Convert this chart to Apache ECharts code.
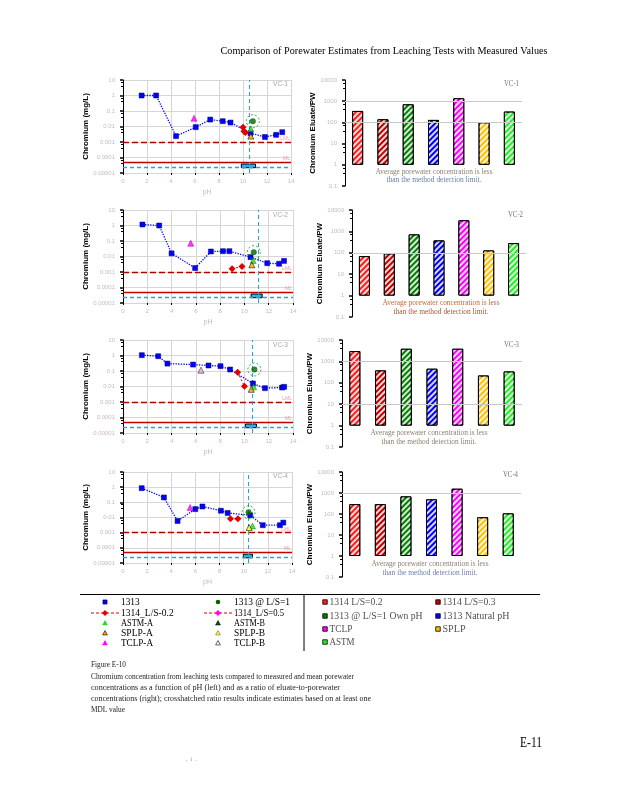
<!DOCTYPE html>
<html><head><meta charset="utf-8">
<script src="https://cdn.jsdelivr.net/npm/echarts@6/dist/echarts.min.js"></script>
<style>html,body{margin:0;padding:0;background:#fff}#c{width:618px;height:800px}</style>
</head><body><div id="c"></div>
<script>
// ---------------- DATA ----------------
const pageTitle = 'Comparison of Porewater Estimates from Leaching Tests with Measured Values';
const vcNames = ['VC-1', 'VC-2', 'VC-3', 'VC-4'];
const barCategories = ['1314 L/S=0.2', '1314 L/S=0.3', '1313 @ L/S=1 Own pH', '1313 Natural pH', 'TCLP', 'SPLP', 'ASTM'];

// eluate / porewater ratios (right panels)
const vc1Ratio = [347, 141, 714, 131, 1380, 101, 324];
const vc2Ratio = [70, 93, 724, 380, 3300, 129, 283];
const vc3Ratio = [3040, 380, 3900, 455, 3900, 220, 340];
const vc4Ratio = [295, 295, 690, 500, 1600, 70, 107];
const barGridValues = [[100, 1000], [100], [10, 1000], [1000]];

// pH-dependent chromium (mg/L) (left panels): [pH, value]
const vc1_1313 = [[1.55, 1.0], [2.76, 1.0], [4.42, 0.0024], [6.06, 0.0091], [7.27, 0.028], [8.31, 0.022], [8.96, 0.018], [10.62, 0.0037], [11.83, 0.0021], [12.76, 0.0029], [13.27, 0.0043]];
const vc1_1314 = [[10.0, 0.0091], [10.08, 0.005], [10.2, 0.0041]];
const vc1_ls1 = [[10.82, 0.022]];
const vc1_astm = [[10.65, 0.0071]];
const vc1_splp = [[10.65, 0.0024]];
const vc1_tclp = [[5.92, 0.034]];

const vc2_1313 = [[1.6, 1.16], [2.98, 1.0], [4.0, 0.016], [5.94, 0.0018], [7.24, 0.021], [8.23, 0.022], [8.76, 0.022], [10.5, 0.0091], [11.88, 0.0037], [12.85, 0.0034], [13.26, 0.0052]];
const vc2_1314 = [[8.98, 0.0016], [9.8, 0.0023]];
const vc2_ls1 = [[10.77, 0.019]];
const vc2_astm = [[10.72, 0.0055]];
const vc2_splp = [[10.61, 0.0029]];
const vc2_tclp = [[5.58, 0.072]];

const vc3_1313 = [[1.55, 1.05], [2.9, 0.9], [3.66, 0.30], [5.77, 0.26], [7.04, 0.227], [8.03, 0.205], [8.82, 0.125], [10.7, 0.0157], [11.69, 0.0078], [13.1, 0.0086], [13.27, 0.0095]];
const vc3_1314 = [[9.44, 0.084], [10.0, 0.0105]];
const vc3_ls1 = [[10.82, 0.125]];
const vc3_astm = [[10.76, 0.0095]];
const vc3_splp = [[10.56, 0.0066]];
const vc3_tclp = [[6.42, 0.113]];

const vc4_1313 = [[1.55, 0.86], [3.39, 0.21], [4.52, 0.0059], [5.99, 0.036], [6.58, 0.053], [8.11, 0.028], [8.67, 0.020], [10.54, 0.014], [11.58, 0.0031], [13.0, 0.0031], [13.28, 0.0046]];
const vc4_1314 = [[8.9, 0.0082], [9.52, 0.0082]];
const vc4_ls1 = [[10.4, 0.022]];
const vc4_astm = [[10.73, 0.0028]];
const vc4_splp = [[10.45, 0.0022]];
const vc4_tclp = [[5.56, 0.046]];

const naturalPH = [10.48, 11.1, 10.62, 10.37];
const porewaterPHRange = [[9.86, 11.04], [10.55, 11.46], [10.08, 10.99], [9.97, 10.73]];
const LML = 0.001;          // lower method limit
const ML = 5e-5;            // method limit
const porewaterMean = 2.5e-5;
const porewaterRange = [2.2e-5, 3.8e-5];

const legendLeft = ['1313', '1313 @ L/S=1', '1314_L/S-0.2', '1314_L/S=0.5', 'ASTM-A', 'ASTM-B', 'SPLP-A', 'SPLP-B', 'TCLP-A', 'TCLP-B'];
const noteLines = ['Average porewater concentration is less', 'than the method detection limit.'];
const captionLines = [
  'Figure E-10',
  'Chromium concentration from leaching tests compared to measured and mean porewater',
  'concentrations as a function of pH (left) and as a ratio of eluate-to-porewater',
  'concentrations (right); crosshatched ratio results indicate estimates based on at least one',
  'MDL value'
];
const pageNumber = 'E-11';

// ---------------- BUILD ----------------
const d1313 = [vc1_1313, vc2_1313, vc3_1313, vc4_1313];
const d1314 = [vc1_1314, vc2_1314, vc3_1314, vc4_1314];
const dLs1 = [vc1_ls1, vc2_ls1, vc3_ls1, vc4_ls1];
const dAstm = [vc1_astm, vc2_astm, vc3_astm, vc4_astm];
const dSplp = [vc1_splp, vc2_splp, vc3_splp, vc4_splp];
const dTclp = [vc1_tclp, vc2_tclp, vc3_tclp, vc4_tclp];
const ratios = [vc1Ratio, vc2Ratio, vc3Ratio, vc4Ratio];

const PALE = '#c9b9c6';
const SERIF = '"Liberation Serif", "Times New Roman", serif';
const SANS = '"Liberation Sans", Arial, sans-serif';
const barColors = ['#ff1a1a', '#c00000', '#008000', '#0000ff', '#ff00ff', '#ffc000', '#22ee22'];
const splpColors = ['#ffa500', '#ffa500', '#ffa500', '#ffff00'];

const leftGrids = [
  {left: 123, top: 80, width: 168, height: 93},
  {left: 123, top: 210, width: 170, height: 93},
  {left: 123, top: 340, width: 170, height: 93},
  {left: 123, top: 472, width: 169, height: 91}
];
const rightGrids = [
  {left: 345, top: 80, width: 177, height: 106},
  {left: 352, top: 210, width: 174, height: 107},
  {left: 342, top: 340, width: 180, height: 107},
  {left: 342, top: 472, width: 179, height: 105}
];
const rightNameGap = [23, 27, 22, 22];

function logFmt(v) {
  const e = Math.round(Math.log10(v));
  return e >= 0 ? String(Math.pow(10, e)) : Math.pow(10, e).toFixed(-e);
}

const grids = [], xAxes = [], yAxes = [], series = [];
leftGrids.concat(rightGrids).forEach(gd => grids.push(Object.assign({outerBoundsMode: 'none', containLabel: false}, gd)));

for (let i = 0; i < 4; i++) {
  xAxes.push({
    type: 'value', gridIndex: i, min: 0, max: 14, interval: 2,
    axisLine: {show: false},
    axisTick: {show: true, length: 2, lineStyle: {color: '#000'}},
    axisLabel: {fontSize: 6, color: PALE, margin: 5, fontFamily: SANS},
    splitLine: {show: true, lineStyle: {color: '#d6d6d6', width: 1}},
    name: 'pH', nameLocation: 'middle', nameGap: 16,
    nameTextStyle: {fontSize: 7, color: PALE, fontFamily: SANS}
  });
  yAxes.push({
    type: 'log', gridIndex: i, logBase: 10, min: 1e-5, max: 10,
    axisLine: {show: true, lineStyle: {color: '#000', width: 1}},
    axisTick: {show: true, length: 3, lineStyle: {color: '#000', width: 1.5}},
    minorTick: {show: true, splitNumber: 3, length: 2, lineStyle: {color: '#000'}},
    axisLabel: {fontSize: 6, color: PALE, margin: 8, formatter: logFmt, fontFamily: SANS},
    splitLine: {show: true, lineStyle: {color: '#d6d6d6', width: 1}},
    name: 'Chromium (mg/L)', nameLocation: 'middle', nameGap: 33, nameRotate: 90,
    nameTextStyle: {fontSize: 8, fontWeight: 'bold', color: '#000', fontFamily: SANS}
  });
}
for (let i = 0; i < 4; i++) {
  xAxes.push({type: 'category', gridIndex: 4 + i, data: barCategories, show: false});
  yAxes.push({
    type: 'log', gridIndex: 4 + i, logBase: 10, min: 0.1, max: 10000,
    axisLine: {show: true, lineStyle: {color: '#000', width: 1}},
    axisTick: {show: true, length: 3, lineStyle: {color: '#000', width: 1.5}},
    minorTick: {show: true, splitNumber: 3, length: 2, lineStyle: {color: '#000'}},
    axisLabel: {fontSize: 6, color: PALE, margin: 8, formatter: logFmt, fontFamily: SANS},
    splitLine: {show: false},
    name: 'Chromium Eluate/PW', nameLocation: 'middle', nameGap: rightNameGap[i], nameRotate: 90,
    nameTextStyle: {fontSize: 8, fontWeight: 'bold', color: '#000', fontFamily: SANS}
  });
}

const refLabel = (t) => ({show: true, formatter: t, position: 'insideEndTop', fontSize: 5, color: '#f09aaa', distance: 1});
for (let i = 0; i < 4; i++) {
  // reference lines & porewater box
  series.push({
    type: 'scatter', xAxisIndex: i, yAxisIndex: i, data: [], silent: true, z: 1,
    markLine: {
      silent: true, symbol: ['none', 'none'], animation: false, precision: 12,
      data: [
        {yAxis: LML, lineStyle: {color: '#b00000', type: [6, 3], width: 1.3}, label: refLabel('LML')},
        {yAxis: ML, lineStyle: {color: '#c00000', type: 'solid', width: 1.3}, label: refLabel('ML')},
        {yAxis: porewaterMean, lineStyle: {color: '#1ea7e1', type: [4, 3], width: 1.3}, label: {show: false}},
        {xAxis: naturalPH[i], lineStyle: {color: '#1ea7e1', type: [4, 3], width: 1}, label: {show: false}}
      ]
    },
    markArea: {
      silent: true,
      itemStyle: {color: '#2fb2e6', borderColor: '#000', borderWidth: 1},
      data: [[{xAxis: porewaterPHRange[i][0], yAxis: porewaterRange[1]}, {xAxis: porewaterPHRange[i][1], yAxis: porewaterRange[0]}]]
    }
  });
  series.push({
    name: '1313', type: 'line', xAxisIndex: i, yAxisIndex: i, data: d1313[i], z: 5,
    symbol: 'rect', symbolSize: 5,
    itemStyle: {color: '#0000ff', borderColor: '#00007a', borderWidth: 0.5},
    lineStyle: {color: '#0000ff', type: 'dotted', width: 1.3}
  });
  series.push({
    name: '1314_L/S-0.2', type: 'line', xAxisIndex: i, yAxisIndex: i, data: d1314[i], z: 6,
    symbol: 'diamond', symbolSize: 7,
    itemStyle: {color: '#e00000'},
    lineStyle: {color: '#e00000', type: [2, 2], width: 1}
  });
  series.push({
    name: 'ring', type: 'scatter', xAxisIndex: i, yAxisIndex: i, data: dLs1[i], z: 6,
    symbol: 'circle', symbolSize: 13, silent: true,
    itemStyle: {color: 'rgba(0,0,0,0)', borderColor: '#00a000', borderType: [2, 2], borderWidth: 1}
  });
  series.push({
    name: '1313 @ L/S=1', type: 'scatter', xAxisIndex: i, yAxisIndex: i, data: dLs1[i], z: 7,
    symbol: 'circle', symbolSize: 6, itemStyle: {color: '#006400'}
  });
  series.push({
    name: 'ASTM-A', type: 'scatter', xAxisIndex: i, yAxisIndex: i, data: dAstm[i], z: 7,
    symbol: 'triangle', symbolSize: 6, itemStyle: {color: '#22dd22', borderColor: '#006000', borderWidth: 0.5}
  });
  series.push({
    name: 'SPLP', type: 'scatter', xAxisIndex: i, yAxisIndex: i, data: dSplp[i], z: 7,
    symbol: 'triangle', symbolSize: 6, itemStyle: {color: splpColors[i], borderColor: '#000', borderWidth: 0.7}
  });
  series.push({
    name: 'TCLP-A', type: 'scatter', xAxisIndex: i, yAxisIndex: i, data: dTclp[i], z: 7,
    symbol: 'triangle', symbolSize: 6, itemStyle: {color: i === 2 ? '#f4a8e0' : '#ff00ff', borderColor: i === 2 ? '#000' : '#a000a0', borderWidth: 0.6}
  });
}

const hatch = {symbol: 'rect', symbolSize: 1, dashArrayX: [1, 0], dashArrayY: [2, 2], rotation: -Math.PI / 4, color: 'rgba(255,255,255,0.85)'};
for (let i = 0; i < 4; i++) {
  series.push({
    type: 'scatter', xAxisIndex: 4 + i, yAxisIndex: 4 + i, data: [], silent: true, z: 1,
    markLine: {silent: true, symbol: ['none', 'none'], animation: false, precision: 12, label: {show: false},
      lineStyle: {color: '#c8c8c8', type: 'solid', width: 1},
      data: barGridValues[i].map(v => ({yAxis: v}))}
  });
  series.push({
    type: 'bar', xAxisIndex: 4 + i, yAxisIndex: 4 + i, z: 3, barWidth: 11,
    data: ratios[i].map((v, k) => ({value: v, itemStyle: {color: barColors[k], borderColor: '#000', borderWidth: 1, decal: hatch}}))
  });
}

// ---------------- TEXT / LEGEND GRAPHICS ----------------
const g = [];
const mctx = document.createElement('canvas').getContext('2d');
function T(x, y, text, size, opt) {
  opt = opt || {};
  const fam = opt.family || SERIF;
  const weight = opt.weight || 'normal';
  const font = `${weight} ${size}px ${fam}`;
  let sx = 1;
  if (opt.w) { mctx.font = font; sx = opt.w / mctx.measureText(text).width; }
  g.push({type: 'text', x: x, y: y, scaleX: sx, z: 100,
    style: {text: text, font: font, fill: opt.color || '#000', textAlign: opt.align || 'left', textVerticalAlign: 'middle'}});
}
function L(x1, y1, x2, y2, stroke, w, dash) {
  g.push({type: 'line', z: 100, shape: {x1, y1, x2, y2}, style: {stroke, lineWidth: w || 1, lineDash: dash || null}});
}
function tri(cx, cy, s, fill, stroke) {
  g.push({type: 'polygon', z: 101, shape: {points: [[cx, cy - s], [cx + s, cy + s * 0.8], [cx - s, cy + s * 0.8]]}, style: {fill, stroke: stroke || fill, lineWidth: 0.6}});
}
function sq(x, y, s, fill, stroke) {
  g.push({type: 'rect', z: 101, shape: {x: x - s / 2, y: y - s / 2, width: s, height: s}, style: {fill, stroke: stroke || fill, lineWidth: 0.8}});
}
function dia(cx, cy, s, fill) {
  g.push({type: 'polygon', z: 101, shape: {points: [[cx, cy - s], [cx + s, cy], [cx, cy + s], [cx - s, cy]]}, style: {fill}});
}

T(220.5, 51, pageTitle, 11, {w: 327});

// panel labels
const leftTop = [84, 215, 345, 476];
const rightTop = [84, 215, 345, 475];
for (let i = 0; i < 4; i++) {
  T(288, leftTop[i], vcNames[i], 8, {align: 'right', family: SANS, color: '#a8a8a8', w: 15});
  T(rightGrids[i].left + rightGrids[i].width - 3, rightTop[i], vcNames[i], 8, {align: 'right', color: '#6c7088', w: 15});
}
// notes in the bar panels
const noteCx = [434, 441, 429, 430];
const noteY = [[172, 180], [303, 312], [433, 442], [564, 573]];
const noteColors = [['#8c7f6e', '#5f7fb0'], ['#b86a3c', '#9c5a38'], ['#8c7f6e', '#8c7f6e'], ['#8c7f6e', '#6a7fa8']];
for (let i = 0; i < 4; i++) {
  T(noteCx[i], noteY[i][0], noteLines[0], 8, {align: 'center', color: noteColors[i][0], w: 117});
  T(noteCx[i], noteY[i][1], noteLines[1], 8, {align: 'center', color: noteColors[i][1], w: 95});
}

// legend frame
L(80, 594.5, 540, 594.5, '#000', 1);
L(304, 594.5, 304, 651, '#000', 1);
// left legend
const rowsL = [602, 613, 623, 633, 643];
const mx1 = 105, tx1 = 121, mx2 = 218, tx2 = 234;
const legendLeftW = [18.7, 56, 52.7, 50, 32, 31, 32, 31, 32, 31];
sq(mx1, rowsL[0], 4, '#0000ff', '#00007a');
g.push({type: 'circle', z: 101, shape: {cx: mx2, cy: rowsL[0], r: 2.3}, style: {fill: '#006400'}});
L(91, rowsL[1], 119, rowsL[1], '#e00000', 1, [3, 2]);
dia(mx1, rowsL[1], 3, '#e00000');
L(204, rowsL[1], 232, rowsL[1], '#e00000', 1, [3, 2]);
dia(mx2, rowsL[1], 3, '#ff00ff');
tri(mx1, rowsL[2], 2.4, '#22dd22');
tri(mx2, rowsL[2], 2.4, '#006000', '#000');
tri(mx1, rowsL[3], 2.4, '#ffa500', '#000');
tri(mx2, rowsL[3], 2.4, '#ffff00', '#666');
tri(mx1, rowsL[4], 2.4, '#ff00ff');
tri(mx2, rowsL[4], 2.4, '#ffffff', '#000');
for (let r = 0; r < 5; r++) {
  T(tx1, rowsL[r], legendLeft[2 * r], 10.5, {w: legendLeftW[2 * r]});
  T(tx2, rowsL[r], legendLeft[2 * r + 1], 10.5, {w: legendLeftW[2 * r + 1]});
}
// right legend
const rowsR = [602, 616, 629, 642];
const legendRightW = [53, 53, 93, 67, 23, 23, 25];
for (let k = 0; k < barCategories.length; k++) {
  const r = Math.floor(k / 2), c = k % 2;
  const x = c === 0 ? 325 : 438;
  sq(x, rowsR[r], 4.5, barColors[k], '#000');
  T(x + 4.5, rowsR[r], barCategories[k], 10.5, {color: '#505050', w: legendRightW[k]});
}

// caption
const capY = [665, 677, 688, 699, 710];
const capW = [35, 263, 249, 280, 34];
for (let r = 0; r < captionLines.length; r++) {
  T(91, capY[r], captionLines[r], 9, {w: capW[r], color: '#222'});
}
T(542, 743, pageNumber, 14, {align: 'right', w: 22});
T(186, 759, ',  i  .', 6, {color: '#999'});

const option = {
  backgroundColor: '#fff',
  animation: false,
  grid: grids,
  xAxis: xAxes,
  yAxis: yAxes,
  series: series,
  graphic: {elements: g}
};
const chart = echarts.init(document.getElementById('c'), null, {renderer: 'canvas', width: 618, height: 800});
chart.setOption(option);
</script>
</body></html>
